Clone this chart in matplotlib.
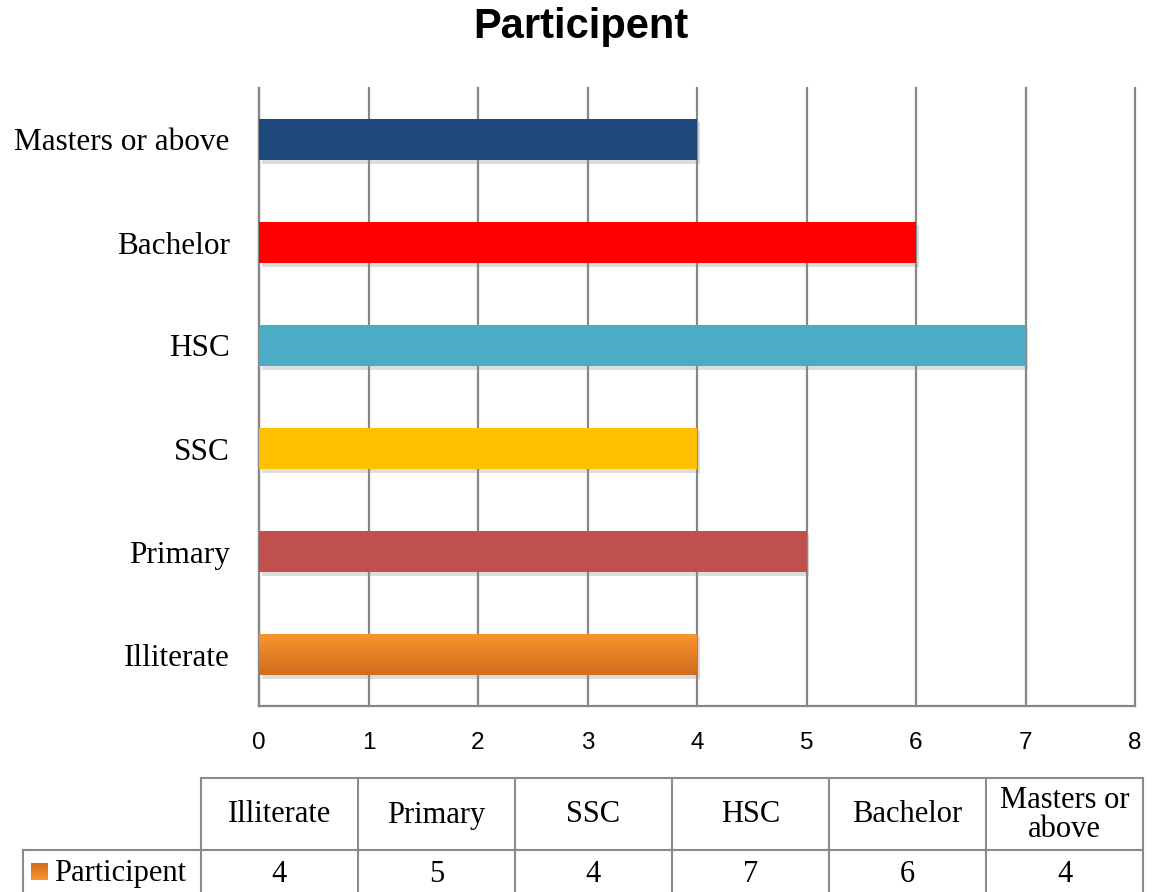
import numpy as np
import matplotlib
matplotlib.use("Agg")
import matplotlib.pyplot as plt
from matplotlib import patheffects as pe
from matplotlib.lines import Line2D

# Education level of participants
categories = ["Illiterate", "Primary", "SSC", "HSC", "Bachelor", "Masters or above"]
table_headers = ["Illiterate", "Primary", "SSC", "HSC", "Bachelor", "Masters or\nabove"]
participants = [4, 5, 4, 7, 6, 4]
series_name = "Participent"
bar_colors = ["#F28A2E", "#C0504D", "#FFC000", "#4BACC6", "#FF0000", "#1F497D"]
x_ticks = list(range(0, 9))

# orange gradient (top -> bottom) used for the first bar and the legend key
grad_top = np.array([0xFA, 0x96, 0x30]) / 255
grad_bot = np.array([0xD2, 0x6C, 0x20]) / 255

GRID = "#878787"
SERIF = ["Liberation Serif", "DejaVu Serif"]
SANS = ["Liberation Sans", "DejaVu Sans"]

W, H = 1152, 892
fig = plt.figure(figsize=(W / 100, H / 100), dpi=100)

ax = fig.add_axes([259 / W, 1 - 706 / H, (1135 - 259) / W, (706 - 88) / H])
ypos = np.arange(len(categories))
bar_h = 0.4
shadow = [pe.SimplePatchShadow(offset=(2, -2.5), shadow_rgbFace="#909090", alpha=0.3), pe.Normal()]
bars = ax.barh(ypos, participants, height=bar_h, color=bar_colors, zorder=3)
for b in bars:
    b.set_path_effects(shadow)

# gradient fill for the first bar
grad = np.linspace(0, 1, 64)[:, None]
grad_img = grad_top[None, None, :] * (1 - grad[..., None]) + grad_bot[None, None, :] * grad[..., None]
b0 = bars[0]
im = ax.imshow(grad_img, extent=[0, participants[0], ypos[0] - bar_h / 2, ypos[0] + bar_h / 2],
               origin="upper", aspect="auto", zorder=4, interpolation="bilinear")
im.set_clip_path(b0)

ax.set_xlim(0, 8)
ax.set_ylim(-0.5, len(categories) - 0.5)
ax.set_xticks(x_ticks)
ax.set_yticks(ypos)
ax.set_yticklabels(categories, family=SERIF, fontsize=22.5)
ax.set_xticklabels([str(t) for t in x_ticks], family=SANS, fontsize=17.5)
ax.tick_params(axis="both", length=0)
ax.tick_params(axis="y", pad=21)
ax.tick_params(axis="x", pad=19)
ax.grid(axis="x", color=GRID, linewidth=1.6, zorder=0)
for gl in ax.get_xgridlines():
    gl.set_clip_on(False)
ax.set_axisbelow(True)
for s in ["top", "right"]:
    ax.spines[s].set_visible(False)
for s in ["left", "bottom"]:
    ax.spines[s].set_color(GRID)
    ax.spines[s].set_linewidth(1.6)

fig.text(581 / W, 1 - 27 / H, "Participent", ha="center", va="center",
         family=SANS, fontweight="bold", fontsize=30)

# data table below the chart, laid out in pixel units
tab = fig.add_axes([0, 0, 1, 1])
tab.axis("off")
x0, cw = 201, 157
label_left = 23
top, mid, bot = 778, 850, 900
TLINE = "#8a8a8a"
n = len(categories)
lw = 1.5
tab.add_line(Line2D([x0, x0 + n * cw], [top, top], color=TLINE, lw=lw))
tab.add_line(Line2D([label_left, x0 + n * cw], [mid, mid], color=TLINE, lw=lw))
tab.add_line(Line2D([label_left, label_left], [mid, bot], color=TLINE, lw=lw))
for i in range(n + 1):
    tab.add_line(Line2D([x0 + i * cw, x0 + i * cw], [top, bot], color=TLINE, lw=lw))
for i, (hdr, val) in enumerate(zip(table_headers, participants)):
    cx = x0 + (i + 0.5) * cw
    tab.text(cx, (top + mid) / 2 + 1, hdr, ha="center", va="center", family=SERIF,
             fontsize=22, linespacing=1.0)
    tab.text(cx, 874, str(val), ha="center", va="center", family=SERIF, fontsize=22)

# legend key with series name
tab.imshow(grad_img, extent=[31, 48, 880, 863], origin="lower", aspect="auto",
           interpolation="bilinear")
tab.text(54, 874, series_name, ha="left", va="center", family=SERIF, fontsize=22)
tab.set_xlim(0, W)
tab.set_ylim(H, 0)

fig.savefig("out.png", dpi=100)
